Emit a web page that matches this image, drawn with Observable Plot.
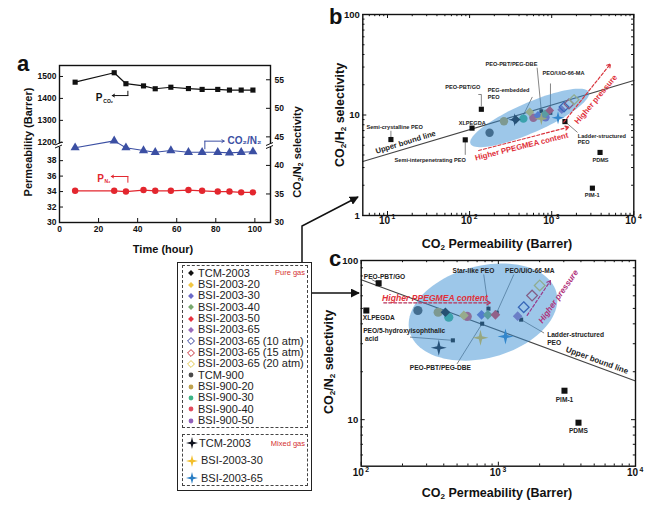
<!DOCTYPE html>
<html><head><meta charset="utf-8">
<script src="https://cdn.jsdelivr.net/npm/d3@7"></script>
<script src="https://cdn.jsdelivr.net/npm/@observablehq/plot@0.6"></script>
<style>
html,body{margin:0;padding:0;background:#fff;}
#fig{position:relative;width:650px;height:509px;overflow:hidden;background:#fff;font-family:"Liberation Sans",Arial,sans-serif;color:#111;}
.t{position:absolute;white-space:nowrap;font-weight:bold;line-height:1;}
.rot{transform:translate(-50%,-50%) rotate(-90deg);}
.ctr{transform:translate(-50%,-50%);}
.t sub{font-size:65%;vertical-align:-0.3em;line-height:0;}
.box{position:absolute;box-sizing:border-box;}
.row{position:absolute;font-size:11px;line-height:1;color:#222;white-space:nowrap;}
</style></head><body><div id="fig"></div>
<script>
// ================= DATA =================
// Panel a: stability test
const timeHours = [8, 28, 34, 43, 49, 57, 66, 73, 81, 87, 93, 99];
const permCO2 = [1474, 1517, 1467, 1457, 1444, 1451, 1445, 1441, 1441, 1438, 1438, 1438];
const permN2 = [34.1, 34.1, 34.0, 34.2, 34.1, 34.1, 34.2, 34.1, 34.0, 34.0, 33.9, 33.9];
const selectivityCO2N2 = [43.1, 44.3, 43.1, 42.6, 42.3, 42.6, 42.3, 42.3, 42.3, 42.2, 42.3, 42.4];
const aTimeTicks = [0, 20, 40, 60, 80, 100];
const aTopTicks = [1200, 1300, 1400, 1500];
const aBottomTicks = [30, 32, 34, 36, 38];
const aRightTicks = [30, 35, 40, 45, 50, 55];

// Pure gas series (legend order)
const pureNames = ["TCM-2003","BSI-2003-20","BSI-2003-30","BSI-2003-40","BSI-2003-50","BSI-2003-65","BSI-2003-65 (10 atm)","BSI-2003-65 (15 atm)","BSI-2003-65 (20 atm)","TCM-900","BSI-900-20","BSI-900-30","BSI-900-40","BSI-900-50"];
const pureShapes = ["diamond","diamond","diamond","diamond","diamond","diamond","open","open","open","circle","circle","circle","circle","circle"];
const pureColors = ["#111111","#F2C744","#6A6AC8","#78A86E","#E8323F","#9A6CBB","#33409C","#C8303C","#E3C94F","#4A4A4A","#BFA24E","#3DB587","#E24B5C","#9160BA"];
const bPureX = [365, 540, 680, 830, 946, 1325, 1413, 1623, 1870, 175, 262, 452, 598, 840];
const bPureY = [9.0, 10.7, 9.9, 10.3, 11.1, 11.3, 12.0, 12.9, 14.2, 6.65, 8.67, 9.2, 9.38, 9.5];
const cPureX = [411, 560, 754, 838, 952, 1383, 1531, 1762, 2003, 259, 364, 435, 593, null];
const cPureY = [47.3, 45.2, 45.6, 45.6, 45.6, 44.7, 50.9, 60.2, 69.7, 48.5, 47.3, 44.0, 44.5, null];
// Mixed gas series
const mixedNames = ["TCM-2003","BSI-2003-30","BSI-2003-65"];
const mixedColors = ["#10131f","#F3BF2C","#2A7EC4"];
const bMixedX = [354, 748, 1194];
const bMixedY = [8.96, 9.2, 9.4];
const cMixedX = [368, 741, 1127];
const cMixedY = [28.3, 32.7, 33.3];

// Literature reference membranes
const bRefNames = ["Semi-crystalline PEO","XLPEGDA","PEO-PBT/GO","Semi-interpenetrating PEO","PDMS","PIM-1","Ladder-structured PEO","PEO-PBT/PEG-DBE","PEO/UiO-66-MA"];
const bRefX = [11, 107, 139, 88.5, 3880, 3130, 1450, 748, 964];
const bRefY = [5.7, 7.4, 11.4, 5.66, 4.24, 1.87, 8.6, 10.9, 10.5];
const cRefNames = ["PEO-PBT/GO","XLPEGDA","PIM-1","PDMS","PEO/5-hydroxyisophthalic acid","PEO-PBT/PEG-DBE","Star-like PEO","PEO/UiO-66-MA","Ladder-structured PEO"];
const cRefX = [134, 109, 3035, 3840, 466, 762, 847, 973, 1466];
const cRefY = [72, 48.5, 15.2, 9.57, 31.5, 40.1, 49.8, 47, 42.5];

// Upper bound lines
const bBoundX = [5, 10000], bBoundY = [3.44, 22];
const cBoundX = [100, 10000], cBoundY = [75.7, 17.5];

// Axis tick values
const bXMajor = [10, 100, 1000, 10000], bYMajor = [1, 10, 100];
const cXMajor = [100, 1000, 10000], cYMajor = [10, 100];

// Annotations (data units)
const bLabels = [
  ["Semi-crystalline PEO", 5.55, 7.69, "start"],
  ["XLPEGDA", 107.6, 8.36, "middle"],
  ["PEO-PBT/GO", 82.6, 18.7, "middle"],
  ["PEG-embedded\nPEO", 166.7, 16.3, "start"],
  ["PEO-PBT/PEG-DBE", 156, 32.3, "start"],
  ["PEO/UiO-66-MA", 773, 26.3, "start"],
  ["Semi-interpenetrating PEO", 12.2, 3.55, "start"],
  ["Ladder-structured\nPEO", 2080, 5.79, "start"],
  ["PDMS", 3930, 3.58, "middle"],
  ["PIM-1", 3110, 1.61, "middle"]
];
const bLeaders = [
  [[129,16],[139,16],[139,12.3]],
  [[578,15.0],[450,9.9]],
  [[665,29.3],[748,10.9]],
  [[966,20.4],[964,10.5]],
  [[1450,8.6],[2047,6.75]],
  [[88.5,5.4],[88.5,4.05]],
  [[11,6.05],[11,6.9]]
];
const cLabels = [
  ["PEO-PBT/GO", 104.5, 79.4, "start"],
  ["XLPEGDA", 102.7, 43.9, "start"],
  ["Star-like PEO", 658, 85.7, "middle"],
  ["PEO/UiO-66-MA", 1694, 85.7, "middle"],
  ["PEO/5-hydroxyisophthalic\n\u00a0acid", 103.4, 34.1, "start"],
  ["PEO-PBT/PEG-DBE", 378, 21.1, "middle"],
  ["Ladder-structured\nPEO", 2270, 32.5, "start"],
  ["PIM-1", 3035, 13.4, "middle"],
  ["PDMS", 3840, 8.47, "middle"]
];
const cLeaders = [
  [[120,75.7],[134,72]],
  [[783,81.3],[847,49.8]],
  [[1294,81.3],[973,47]],
  [[228.6,33],[466,31.5]],
  [[501,22.5],[762,40.1]],
  [[1466,42.5],[2143,35.1]]
];

// ================= DRAWING =================
const FONT = '"Liberation Sans", Arial, sans-serif';
const fig = document.getElementById("fig");
function put(el, left, top){
  Object.assign(el.style,{position:"absolute",left:left+"px",top:top+"px",background:"transparent",maxWidth:"none",overflow:"visible"});
  fig.appendChild(el); return el;
}
function html(str, left, top, cls, extra){
  const d = document.createElement("div");
  d.className = "t " + (cls||""); d.innerHTML = str;
  d.style.left = left+"px"; d.style.top = top+"px";
  if (extra) Object.assign(d.style, extra);
  fig.appendChild(d); return d;
}
const baseStyle = {fontFamily: FONT, fontSize: "8px", fontWeight: "bold", color: "#111", background: "transparent"};
const star4 = {draw(ctx, size){ const r = Math.sqrt(size/Math.PI), w = r*0.2;
  ctx.moveTo(0,-r); ctx.lineTo(w,-w); ctx.lineTo(r,0); ctx.lineTo(w,w); ctx.lineTo(0,r); ctx.lineTo(-w,w); ctx.lineTo(-r,0); ctx.lineTo(-w,-w); ctx.closePath(); }};
function logMinor(lo, hi){ const out=[]; for(let e=Math.floor(Math.log10(lo)); e<Math.ceil(Math.log10(hi)); e++) for(let m=2;m<10;m++){ const v=m*10**e; if(v>lo*1.001 && v<hi*0.999) out.push(v);} return out; }
function tickMarks(xMaj, xMin, yMaj, yMin, fw, fh, L=4, l=2.2){
  const s = {stroke:"#111", strokeWidth:1};
  return [
    Plot.ruleX(xMaj,{x:d=>d, insetTop:fh-L, ...s}), Plot.ruleX(xMaj,{x:d=>d, insetBottom:fh-L, ...s}),
    Plot.ruleX(xMin,{x:d=>d, insetTop:fh-l, ...s}), Plot.ruleX(xMin,{x:d=>d, insetBottom:fh-l, ...s}),
    Plot.ruleY(yMaj,{y:d=>d, insetRight:fw-L, ...s}), Plot.ruleY(yMaj,{y:d=>d, insetLeft:fw-L, ...s}),
    Plot.ruleY(yMin,{y:d=>d, insetRight:fw-l, ...s}), Plot.ruleY(yMin,{y:d=>d, insetLeft:fw-l, ...s})
  ];
}
function ellipsePts(A, B, minorPx, kx, ky){
  const ax=Math.log10(A[0])*kx, ay=Math.log10(A[1])*ky, bx=Math.log10(B[0])*kx, by=Math.log10(B[1])*ky;
  const cx=(ax+bx)/2, cy=(ay+by)/2, dx=(bx-ax)/2, dy=(by-ay)/2, a=Math.hypot(dx,dy);
  const ux=dx/a, uy=dy/a, vx=-uy, vy=ux;
  return d3.range(0,96).map(i=>{ const t=i/96*2*Math.PI;
    const X=cx+a*Math.cos(t)*ux+minorPx*Math.sin(t)*vx, Y=cy+a*Math.cos(t)*uy+minorPx*Math.sin(t)*vy;
    return {x:10**(X/kx), y:10**(Y/ky)}; });
}
function leaderRows(list){ return list.flatMap((pts,k)=>pts.map(p=>({x:p[0],y:p[1],k}))); }
function seriesMarks(px, py, mx, my, rc, rs){
  const pure = pureNames.map((n,i)=>({n, c:pureColors[i], s:pureShapes[i], x:px[i], y:py[i]})).filter(d=>d.x!=null);
  const mixed = mixedNames.map((n,i)=>({n, c:mixedColors[i], x:mx[i], y:my[i]}));
  return [
    Plot.dot(pure.filter(d=>d.s==="circle"), {x:"x", y:"y", r:rc, fill:"c", stroke:"none"}),
    Plot.dot(pure.filter(d=>d.s==="diamond"), {x:"x", y:"y", r:rc*0.95, symbol:"diamond2", fill:"c", stroke:"none"}),
    Plot.dot(pure.filter(d=>d.s==="open"), {x:"x", y:"y", r:rc*1.05, symbol:"diamond2", fill:"none", stroke:"c", strokeWidth:1.3}),
    Plot.dot(mixed, {x:"x", y:"y", r:rs, symbol:star4, fill:"c", stroke:"none"})
  ];
}
function refMarks(names, xs, ys, small, rBig, rSmall, smallFill){
  const rows = names.map((n,i)=>({n, x:xs[i], y:ys[i]}));
  return [
    Plot.dot(rows.filter(d=>!small.has(d.n)), {x:"x", y:"y", symbol:"square", r:rBig, fill:"#111"}),
    Plot.dot(rows.filter(d=>small.has(d.n)), {x:"x", y:"y", symbol:"square", r:rSmall, fill:smallFill})
  ];
}
function logTickLabels(xMaj, yMaj, xdy, fs){
  return [
    Plot.text(xMaj, {x:d=>d, frameAnchor:"bottom", text:()=>"10", dy:xdy, dx:-3, fontSize:fs, fill:"#111"}),
    Plot.text(xMaj, {x:d=>d, frameAnchor:"bottom", text:d=>String(Math.round(Math.log10(d))), dy:xdy-4.5, dx:6, fontSize:fs*0.68, fill:"#111"}),
    Plot.text(yMaj, {y:d=>d, frameAnchor:"left", text:d=>String(d), textAnchor:"end", dx:-3, fontSize:fs*0.95, fill:"#111"})
  ];
}

// ---------- Panel a ----------
const A = {left:0, top:50, w:320, h:210, ml:59, mr:50, mt:15, mb:38};
const aFW = A.w - A.ml - A.mr, aFH = A.h - A.mt - A.mb;
const aRows = timeHours.map((t,i)=>({t, co2:permCO2[i], n2:permN2[i], sel:selectivityCO2N2[i]}));
const BLUE = "#3B4FA3", RED = "#E3262E";
put(Plot.plot({
  width:A.w, height:A.h, marginLeft:A.ml, marginRight:A.mr, marginTop:A.mt, marginBottom:A.mb,
  x:{domain:[0,108], axis:null}, y:{domain:[30,57.5], axis:null}, style: baseStyle,
  marks:[
    Plot.line(aRows, {x:"t", y:"sel", stroke:BLUE, strokeWidth:1.1}),
    Plot.dot(aRows, {x:"t", y:"sel", symbol:"triangle", r:3.4, fill:BLUE}),
    Plot.line([{t:74.4,v:42.9},{t:74.4,v:44.25}], {x:"t", y:"v", stroke:BLUE, strokeWidth:1}),
    Plot.arrow([{}], {x1:74.4, y1:44.25, x2:84.3, y2:44.25, stroke:BLUE, strokeWidth:1, headLength:4}),
    Plot.text([{}], {x:86, y:44.3, text:()=>"CO₂/N₂", textAnchor:"start", fill:BLUE, fontSize:10}),
    Plot.ruleX(aTimeTicks, {x:d=>d, insetTop:aFH-4, stroke:"#111"}),
    Plot.ruleY(aRightTicks, {y:d=>d, insetLeft:aFW-4, stroke:"#111"}),
    Plot.text(aTimeTicks, {x:d=>d, frameAnchor:"bottom", dy:9, text:d=>String(d), fontSize:8.5, fill:"#111"}),
    Plot.text(aRightTicks, {y:d=>d, frameAnchor:"right", dx:4, textAnchor:"start", text:d=>String(d), fontSize:8.5, fill:"#111"}),
    Plot.frame({stroke:"#111", strokeWidth:1.4})
  ]
}), A.left, A.top);
// top segment (CO2 permeability)
put(Plot.plot({
  width:A.w, height:A.h, marginLeft:A.ml, marginRight:A.mr, marginTop:A.mt, marginBottom:A.h-(144-A.top),
  x:{domain:[0,108], axis:null}, y:{domain:[1190,1550], axis:null}, style: baseStyle,
  marks:[
    Plot.line(aRows, {x:"t", y:"co2", stroke:"#111", strokeWidth:1.2}),
    Plot.dot(aRows, {x:"t", y:"co2", symbol:"square", r:2.9, fill:"#111"}),
    Plot.line([{t:35,v:1433},{t:35,v:1413}], {x:"t", y:"v", stroke:"#111", strokeWidth:1}),
    Plot.arrow([{}], {x1:35, y1:1413, x2:27, y2:1413, stroke:"#111", strokeWidth:1, headLength:4}),
    Plot.text([{}], {x:20.3, y:1401, text:()=>"P", fontSize:10, fill:"#111"}),
    Plot.text([{}], {x:20.3, y:1401, text:()=>"CO₂", fontSize:5, dx:9, dy:3, fill:"#111"}),
    Plot.ruleY(aTopTicks, {y:d=>d, insetRight:aFW-4, stroke:"#111"}),
    Plot.text(aTopTicks, {y:d=>d, frameAnchor:"left", dx:-3, textAnchor:"end", text:d=>String(d), fontSize:8.5, fill:"#111"})
  ]
}), A.left, A.top);
// bottom segment (N2 permeability)
put(Plot.plot({
  width:A.w, height:A.h, marginLeft:A.ml, marginRight:A.mr, marginTop:147-A.top, marginBottom:A.mb,
  x:{domain:[0,108], axis:null}, y:{domain:[30,39.7], axis:null}, style: baseStyle,
  marks:[
    Plot.line(aRows, {x:"t", y:"n2", stroke:RED, strokeWidth:1.3}),
    Plot.dot(aRows, {x:"t", y:"n2", r:3.2, fill:RED}),
    Plot.line([{t:35,v:35.2},{t:35,v:35.95}], {x:"t", y:"v", stroke:RED, strokeWidth:1}),
    Plot.arrow([{}], {x1:35, y1:35.95, x2:26.5, y2:35.95, stroke:RED, strokeWidth:1, headLength:4}),
    Plot.text([{}], {x:21, y:35.7, text:()=>"P", fontSize:10, fill:RED}),
    Plot.text([{}], {x:21, y:35.7, text:()=>"N₂", fontSize:5, dx:7, dy:3, fill:RED}),
    Plot.ruleY(aBottomTicks, {y:d=>d, insetRight:aFW-4, stroke:"#111"}),
    Plot.text(aBottomTicks, {y:d=>d, frameAnchor:"left", dx:-3, textAnchor:"end", text:d=>String(d), fontSize:8.5, fill:"#111"})
  ]
}), A.left, A.top);

// ---------- Panel b ----------
const B = {left:330, top:0, w:320, h:260, ml:32.3, mr:16.7, mt:14, mb:45};
const bFW = B.w-B.ml-B.mr, bFH = B.h-B.mt-B.mb;
const bKx = bFW/Math.log10(1e4/5), bKy = bFH/2;
const ELL = "#3b8fd3";
const bTxt = bLabels.map(([text,x,y,a])=>({text,x,y,a}));
put(Plot.plot({
  width:B.w, height:B.h, marginLeft:B.ml, marginRight:B.mr, marginTop:B.mt, marginBottom:B.mb,
  x:{type:"log", domain:[5,1e4], axis:null}, y:{type:"log", domain:[1,100], axis:null},
  color:{type:"identity"}, style: baseStyle,
  marks:[
    Plot.line(bBoundX.map((x,i)=>({x, y:bBoundY[i]})), {x:"x", y:"y", stroke:"#444", strokeWidth:1.1}),
    Plot.line(leaderRows(bLeaders), {x:"x", y:"y", z:"k", stroke:"#333", strokeWidth:0.6}),
    ...refMarks(bRefNames, bRefX, bRefY, new Set(["PEO-PBT/PEG-DBE","PEO/UiO-66-MA"]), 2.9, 2.2, "#111"),
    ...seriesMarks(bPureX, bPureY, bMixedX, bMixedY, 4.2, 6.5),
    Plot.line(ellipsePts([102.5,5.17],[2830,16.9],15,bKx,bKy), {x:"x", y:"y", fill:ELL, fillOpacity:0.5, stroke:"none", curve:"linear-closed"}),
    Plot.text(bTxt.filter(d=>d.a==="start"), {x:"x", y:"y", text:"text", textAnchor:"start", fontSize:5.6, lineHeight:1.2, fill:"#222"}),
    Plot.text(bTxt.filter(d=>d.a==="middle"), {x:"x", y:"y", text:"text", textAnchor:"middle", fontSize:5.6, fill:"#222"}),
    Plot.arrow([{}], {x1:129, y1:4.43, x2:1614, y2:7.57, stroke:"#D9363E", strokeWidth:1.2, strokeDasharray:"3,2", headLength:5}),
    Plot.arrow([{}], {x1:1403, y1:8.48, x2:5200, y2:32.3, stroke:"#D9363E", strokeWidth:1.2, strokeDasharray:"3,2", headLength:5}),
    Plot.text([{}], {x:430, y:4.85, text:()=>"Higher PPEGMEA content", rotate:-14, fontSize:7.8, fill:"#E0303A"}),
    Plot.text([{}], {x:3450, y:14.3, text:()=>"Higher pressure", rotate:-50, fontSize:8, fill:"#E0303A"}),
    Plot.text([{}], {x:16.6, y:5.36, text:()=>"Upper bound line", rotate:-17, fontSize:7.6, fill:"#222"}),
    ...tickMarks(bXMajor, logMinor(5,1e4), bYMajor, logMinor(1,100), bFW, bFH),
    ...logTickLabels(bXMajor, bYMajor, 8, 10),
    Plot.frame({stroke:"#111", strokeWidth:1.4})
  ]
}), B.left, B.top);

// ---------- Panel c ----------
const C = {left:330, top:245, w:320, h:264, ml:30.7, mr:15, mt:15, mb:43.3};
const cFW = C.w-C.ml-C.mr, cFH = C.h-C.mt-C.mb;
const cKx = cFW/2, cKy = cFH/Math.log10(100/5.1);
const cTxt = cLabels.map(([text,x,y,a])=>({text,x,y,a}));
put(Plot.plot({
  width:C.w, height:C.h, marginLeft:C.ml, marginRight:C.mr, marginTop:C.mt, marginBottom:C.mb,
  x:{type:"log", domain:[100,1e4], axis:null}, y:{type:"log", domain:[5.1,100], axis:null},
  color:{type:"identity"}, style: baseStyle,
  marks:[
    Plot.line(cBoundX.map((x,i)=>({x, y:cBoundY[i]})), {x:"x", y:"y", stroke:"#444", strokeWidth:1.1}),
    Plot.line(leaderRows(cLeaders), {x:"x", y:"y", z:"k", stroke:"#333", strokeWidth:0.6}),
    ...refMarks(cRefNames, cRefX, cRefY, new Set(["PEO/5-hydroxyisophthalic acid","PEO-PBT/PEG-DBE","Star-like PEO","PEO/UiO-66-MA","Ladder-structured PEO"]), 3.4, 2.3, "#111"),
    ...seriesMarks(cPureX, cPureY, cMixedX, cMixedY, 4.6, 8),
    Plot.line(ellipsePts([225.5,35.7],[2650,63],46,cKx,cKy), {x:"x", y:"y", fill:ELL, fillOpacity:0.5, stroke:"none", curve:"linear-closed"}),
    Plot.text(cTxt.filter(d=>d.a==="start"), {x:"x", y:"y", text:"text", textAnchor:"start", fontSize:6.6, lineHeight:1.2, fill:"#222"}),
    Plot.text(cTxt.filter(d=>d.a==="middle"), {x:"x", y:"y", text:"text", textAnchor:"middle", fontSize:6.6, fill:"#222"}),
    Plot.arrow([{}], {x1:146, y1:54.2, x2:875, y2:54.2, stroke:"#B8325A", strokeWidth:1.2, strokeDasharray:"3,2", headLength:5}),
    Plot.arrow([{}], {x1:1622, y1:45.2, x2:2400, y2:74.8, stroke:"#9A3A8A", strokeWidth:1.2, strokeDasharray:"3,2", headLength:5}),
    Plot.text([{}], {x:142, y:58.3, text:()=>"Higher PPEGMEA content", textAnchor:"start", fontSize:8.6, fontStyle:"italic", fill:"#E0303A"}),
    Plot.text([{}], {x:2740, y:59.4, text:()=>"Higher pressure", rotate:-55, fontSize:8.2, fontStyle:"italic", fill:"#B0307A"}),
    Plot.text([{}], {x:5250, y:23.6, text:()=>"Upper bound line", rotate:20, fontSize:8, fill:"#222"}),
    ...tickMarks(cXMajor, logMinor(100,1e4), cYMajor, logMinor(5.1,100), cFW, cFH),
    ...logTickLabels(cXMajor, cYMajor, 10, 10),
    Plot.frame({stroke:"#111", strokeWidth:1.4})
  ]
}), C.left, C.top);

// ---------- Titles / labels ----------
html("a", 17, 53, "", {fontSize:"22px"});
html("b", 329, 6, "", {fontSize:"22px"});
html("c", 329, 248, "", {fontSize:"22px"});
html("Permeability (Barrer)", 28, 142, "rot", {fontSize:"11px"});
html("CO<sub>2</sub>/N<sub>2</sub> selectivity", 297, 152, "rot", {fontSize:"11px"});
html("Time (hour)", 163, 249, "ctr", {fontSize:"11px"});
html("CO<sub>2</sub>/H<sub>2</sub> selectivity", 340, 115, "rot", {fontSize:"12.5px"});
html("CO<sub>2</sub> Permeability (Barrer)", 497, 244, "ctr", {fontSize:"12.5px"});
html("CO<sub>2</sub>/N<sub>2</sub> selectivity", 329, 362, "rot", {fontSize:"12.5px"});
html("CO<sub>2</sub> Permeability (Barrer)", 497, 493, "ctr", {fontSize:"12.5px"});

// ---------- Connectors and axis breaks (decoration) ----------
const NS = "http://www.w3.org/2000/svg";
const deco = document.createElementNS(NS, "svg");
deco.setAttribute("width", 650); deco.setAttribute("height", 509);
deco.style.cssText = "position:absolute;left:0;top:0;pointer-events:none;overflow:visible";
deco.innerHTML = `
<defs><marker id="ah" viewBox="0 0 10 10" refX="9" refY="5" markerWidth="6" markerHeight="6" orient="auto"><path d="M0,0L10,5L0,10z" fill="#111"/></marker></defs>
<polyline points="302,262 302,226 358,197" fill="none" stroke="#111" stroke-width="1.5" marker-end="url(#ah)"/>
<line x1="311.5" y1="293" x2="359" y2="293" stroke="#111" stroke-width="1.5" marker-end="url(#ah)"/>
<rect x="55" y="143.5" width="8" height="3" fill="#fff"/>
<path d="M55,145 L62,142 M55,148 L62,145" stroke="#111" stroke-width="1"/>
<rect x="266" y="144" width="8" height="3" fill="#fff"/>
<path d="M266,145.5 L273,142.5 M266,148.5 L273,145.5" stroke="#111" stroke-width="1"/>`;
fig.appendChild(deco);

// ---------- Legend ----------
function box(l,t,w,h,border){ const d=document.createElement("div"); d.className="box"; Object.assign(d.style,{left:l+"px",top:t+"px",width:w+"px",height:h+"px",border}); fig.appendChild(d); }
box(177, 261.5, 135, 229, "1.5px solid #222");
box(182, 264.5, 126, 163.5, "1.2px dashed #444");
box(182, 434, 126, 52, "1.2px dashed #444");
function legSym(shape, color){
  let type = d3.symbolCircle, size = 18, fill = color, stroke = "none", sw = 0;
  if (shape === "diamond") { type = d3.symbolDiamond2; size = 22; }
  if (shape === "open") { type = d3.symbolDiamond2; size = 30; fill = "none"; stroke = color; sw = 1; }
  if (shape === "star") { type = star4; size = 113; }
  const s = d3.symbol(type, size)();
  return `<svg width="14" height="14" style="position:absolute;left:-7px;top:-7px;overflow:visible"><path transform="translate(7,7)" d="${s}" fill="${fill}" stroke="${stroke}" stroke-width="${sw}"/></svg>`;
}
pureNames.forEach((n,i)=>{
  const y = 273.3 + i*11.33;
  const s = document.createElement("div"); s.style.cssText=`position:absolute;left:191px;top:${y}px;width:0;height:0`; s.innerHTML = legSym(pureShapes[i], pureColors[i]); fig.appendChild(s);
  const r = document.createElement("div"); r.className="row"; r.textContent=n; r.style.left="198px"; r.style.top=(y-5.5)+"px"; fig.appendChild(r);
});
mixedNames.forEach((n,i)=>{
  const y = [443.3, 460.7, 478.3][i];
  const s = document.createElement("div"); s.style.cssText=`position:absolute;left:191.5px;top:${y}px;width:0;height:0`; s.innerHTML = legSym("star", mixedColors[i]); fig.appendChild(s);
  const r = document.createElement("div"); r.className="row"; r.textContent=n; r.style.left=(i===0?"199px":"201px"); r.style.top=(y-5.5)+"px"; fig.appendChild(r);
});
const pg = document.createElement("div"); pg.className="row"; pg.textContent="Pure gas"; Object.assign(pg.style,{fontSize:"7.5px",color:"#D43030",right:(650-305)+"px",top:"269px"}); fig.appendChild(pg);
const mg = document.createElement("div"); mg.className="row"; mg.textContent="Mixed gas"; Object.assign(mg.style,{fontSize:"7.5px",color:"#D43030",right:(650-305)+"px",top:"439.5px"}); fig.appendChild(mg);
</script></body></html>
